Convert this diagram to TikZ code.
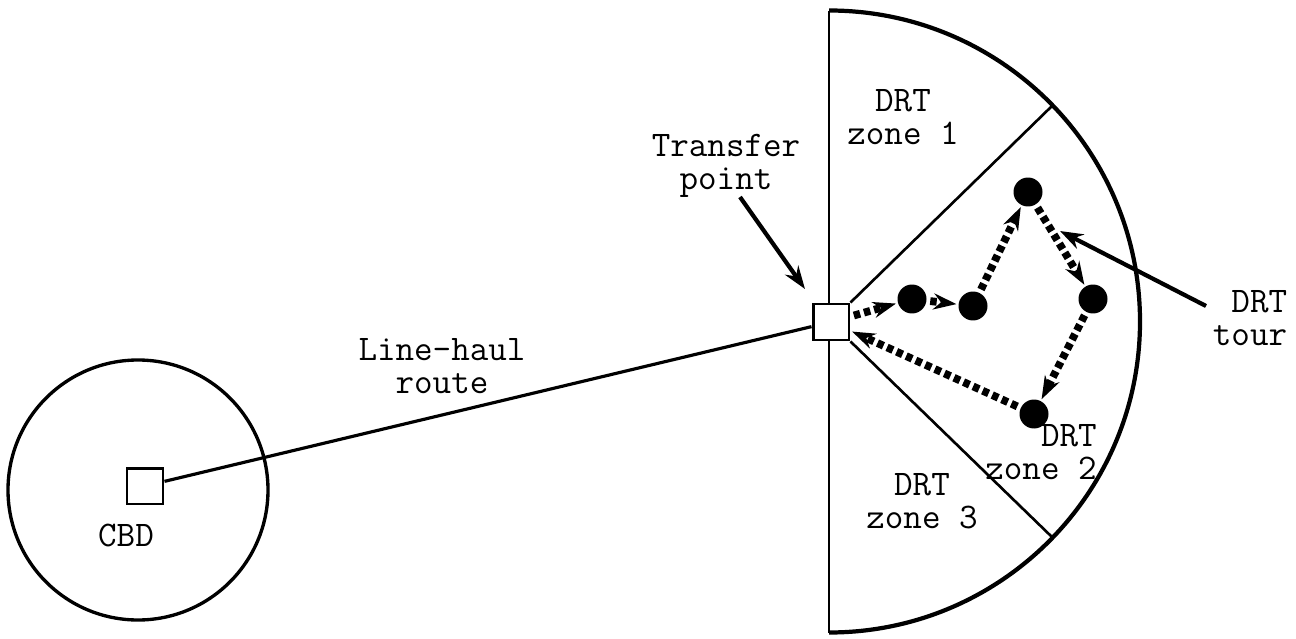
\documentclass[tikz,border=0pt]{standalone}
\usepackage{fontspec}
\usetikzlibrary{arrows.meta}
\begin{document}
\begin{tikzpicture}[x=0.02cm,y=-0.02cm,
  lbl/.style={font=\ttfamily\fontsize{20.5}{19}\selectfont, inner sep=0pt},
  stopdot/.style={circle, fill=black, inner sep=0pt, minimum size=0.58cm},
  depot/.style={draw, fill=white, line width=1.7pt, inner sep=0pt, minimum size=0.72cm},
  boundary/.style={line width=1.5pt},
  rim/.style={line width=2.4pt},
  pointer/.style={line width=2.4pt, -{Stealth[length=0.46cm,width=0.32cm]}},
  leg/.style={line width=0.155cm, dash pattern=on 0.13cm off 0.08cm,
    -{Stealth[length=0.46cm,width=0.32cm]}, shorten >=1pt, shorten <=2pt}]
\useasboundingbox (0,0) rectangle (1296,639);

% central business district
\draw[line width=1.9pt] (138,490) circle[radius=130];
\node[depot] (cbd) at (145,486) {};
\node[lbl] (cbdlbl) at (126,535) {CBD};

% service area: half disc split into three zones
\draw[boundary] (829,632.5) -- (829,10.5);
\draw[rim] (829,10.5) arc[start angle=-90, end angle=90, radius=311];
\coordinate (z12) at (1053,105);
\coordinate (z23) at (1053,538);

\node[depot] (tp) at (831,322) {};
\draw[boundary] (tp.north east) -- (z12);
\draw[boundary] (tp.south east) -- (z23);

% line-haul route
\draw[line width=1.8pt] (cbd) -- (tp);

% zone labels
\node[lbl, align=center] (zone1) at (903,117) {DRT\\zone 1};
\node[lbl, align=right] (zone2) at (1041,452) {DRT\\zone 2};
\node[lbl, align=center] (zone3) at (922,501) {DRT\\zone 3};
\node[lbl, align=center] (haul) at (442,366) {Line-haul\\route};
\node[lbl, align=center] (tplbl) at (726,166) {Transfer\\point};
\node[lbl, align=right] (tourlbl) at (1250,318) {DRT\\tour};

% demand-responsive tour stops
\node[stopdot] (s1) at (912,299) {};
\node[stopdot] (s2) at (973,306) {};
\node[stopdot] (s3) at (1028,192) {};
\node[stopdot] (s4) at (1093,299) {};
\node[stopdot] (s5) at (1034,414) {};

\draw[leg] (tp) -- (s1);
\draw[leg] (s1) -- (s2);
\draw[leg] (s2) -- (s3);
\draw[leg] (s3) -- (s4);
\draw[leg] (s4) -- (s5);
\draw[leg] (s5) -- (tp);

% callouts
\coordinate (tpfrom) at (740,197);
\coordinate (tpto) at (805,289);
\draw[pointer] (tpfrom) -- (tpto);
\coordinate (tourfrom) at (1206,306);
\coordinate (tourto) at (1060,231);
\draw[pointer] (tourfrom) -- (tourto);
\end{tikzpicture}
\end{document}
